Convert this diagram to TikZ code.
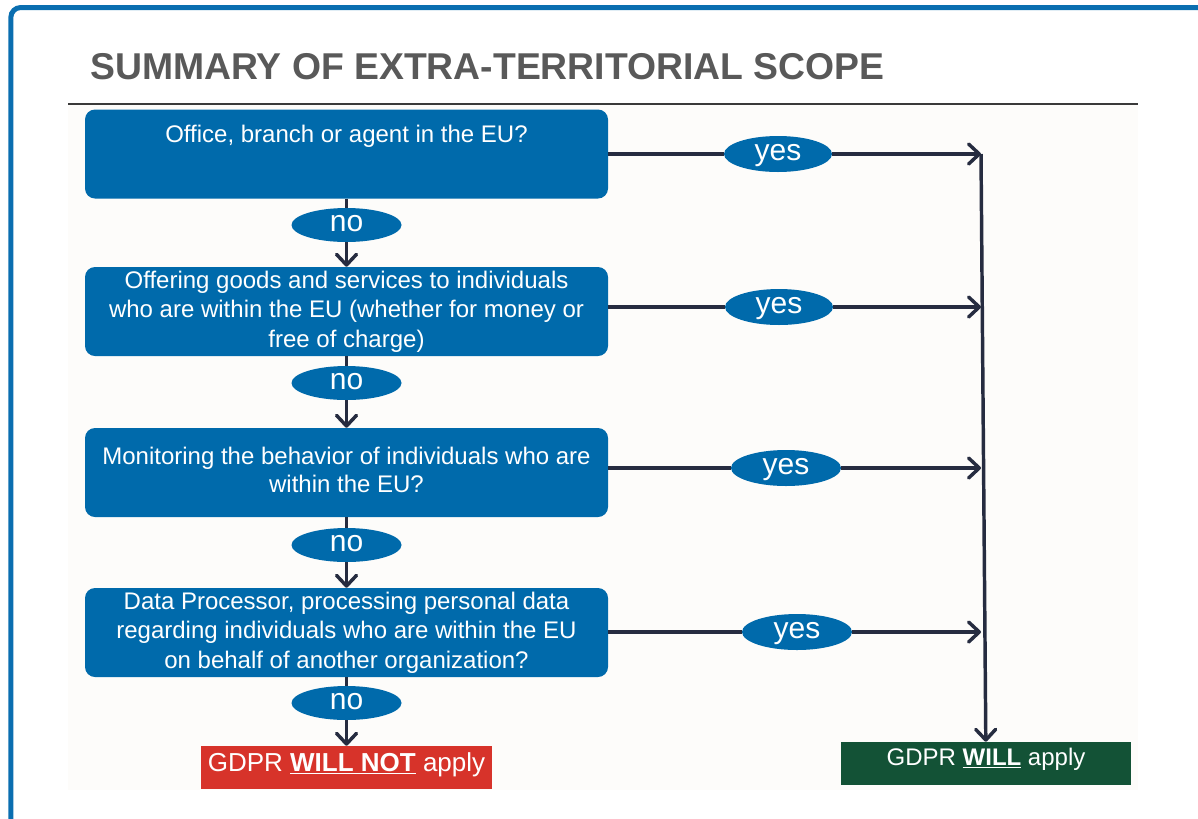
\documentclass[tikz,border=0pt]{standalone}
\usepackage{fontspec}
\setmainfont{Liberation Sans}
\usepackage{tikz}
\usetikzlibrary{shapes.geometric, arrows.meta}

\definecolor{qblue}{RGB}{0,106,171}
\definecolor{frameblue}{RGB}{10,110,176}
\definecolor{flownavy}{RGB}{38,44,64}
\definecolor{titlegray}{RGB}{89,89,89}
\definecolor{rulegray}{RGB}{58,58,58}
\definecolor{willgreen}{RGB}{19,82,54}
\definecolor{wontred}{RGB}{215,51,42}
\definecolor{paper}{RGB}{253,252,250}

\tikzset{
  qbox/.style={fill=qblue, rounded corners=7.5pt, minimum width=392.25pt, minimum height=66.75pt,
    inner sep=0pt, text=white, align=center, font=\fontsize{18}{22}\selectfont},
  answer/.style={ellipse, fill=qblue, text=white, inner sep=0pt, minimum width=82.5pt,
    minimum height=25.5pt, text height=12pt, text depth=3pt, font=\fontsize{22.5}{22}\selectfont},
  outcome/.style={inner sep=0pt, text=white, minimum height=32.25pt},
  flow/.style={draw=flownavy, line width=2.6pt},
  arr/.style={flow, -{Straight Barb[length=8pt,width=15pt,round]}},
}

\begin{document}
\begin{tikzpicture}[x=0.75pt,y=0.75pt,yscale=-1,xscale=1]
    \useasboundingbox (0,0) rectangle (1198,818);
    \clip (0,0) rectangle (1198,818);
    
    %Shape: Rectangle [paper]
    \fill[paper] (68,105) rectangle (1138,790);
    %Shape: Rounded Rectangle [frame]
    \draw[frameblue, line width=3.75pt, rounded corners=7.5pt] (10.8,7.5) rectangle (1240,850);
    
    % Text Node
    \node[anchor=base west, inner sep=0pt, text=titlegray, font=\fontsize{28}{28}\selectfont\bfseries] (title) at (90,79) {SUMMARY OF EXTRA-TERRITORIAL SCOPE};
    %Straight Lines
    \draw[rulegray, line width=1.5pt] (68,104) -- (1138,104);
    
    %Question boxes
    \node[qbox, text height=24pt, text depth=42pt] (office) at (346.5,154) {Office, branch or agent in the EU?};
    \node[qbox] (offering) at (346.5,311.5) {Offering goods and services to individuals\\who are within the EU (whether for money or\\free of charge)};
    \node[qbox] (monitor) at (346.5,472.5) {\raisebox{3.5pt}{\begin{tabular}{@{}c@{}}Monitoring the behavior of individuals who are\\[-0.5pt]within the EU?\end{tabular}}};
    \node[qbox] (processor) at (346.5,632.5) {Data Processor, processing personal data\\regarding individuals who are within the EU\\on behalf of another organization?};
    
    %no ellipses
    \node[answer] (no1) at (346.5,225) {no};
    \node[answer] (no2) at (346.5,383) {no};
    \node[answer] (no3) at (346.5,545) {no};
    \node[answer] (no4) at (346.5,703) {no};
    
    %yes ellipses
    \node[answer, minimum width=81pt, minimum height=27pt] (yes1) at (778,154) {yes};
    \node[answer, minimum width=81pt, minimum height=27pt] (yes2) at (779,307) {yes};
    \node[answer, minimum width=82.5pt, minimum height=27pt] (yes3) at (786,468) {yes};
    \node[answer, minimum width=82.5pt, minimum height=27pt] (yes4) at (797,632) {yes};
    
    %Outcome boxes
    \node[outcome, fill=wontred, minimum width=218.25pt, text height=18.75pt, text depth=13.5pt, font=\fontsize{19.5}{20}\selectfont] (wont) at (346.5,767.5) {GDPR \textbf{\underline{WILL NOT}} apply};
    \node[outcome, fill=willgreen, minimum width=217.5pt, text height=17.25pt, text depth=15pt, font=\fontsize{18}{20}\selectfont] (will) at (986,763.5) {GDPR \textbf{\underline{WILL}} apply};
    
    %Junctions on the right
    \coordinate (j1) at (981,154);
    \coordinate (j2) at (yes2 -| j1);
    \coordinate (j3) at (yes3 -| j1);
    \coordinate (j4) at (yes4 -| j1);
    
    %no connectors
    \draw[flow] (office) -- (no1);
    \draw[arr] (no1) -- (offering);
    \draw[flow] (offering) -- (no2);
    \draw[arr] (no2) -- (monitor);
    \draw[flow] (monitor) -- (no3);
    \draw[arr] (no3) -- (processor);
    \draw[flow] (processor) -- (no4);
    \draw[arr] (no4) -- (wont);
    
    %yes connectors
    \draw[flow] (office.east |- yes1) -- (yes1);
    \draw[arr] (yes1) -- (j1);
    \draw[flow] (offering.east |- yes2) -- (yes2);
    \draw[arr] (yes2) -- (j2);
    \draw[flow] (monitor.east |- yes3) -- (yes3);
    \draw[arr] (yes3) -- (j3);
    \draw[flow] (processor.east |- yes4) -- (yes4);
    \draw[arr] (yes4) -- (j4);
    \draw[arr] (j1) -- (will);
    
\end{tikzpicture}
\end{document}
